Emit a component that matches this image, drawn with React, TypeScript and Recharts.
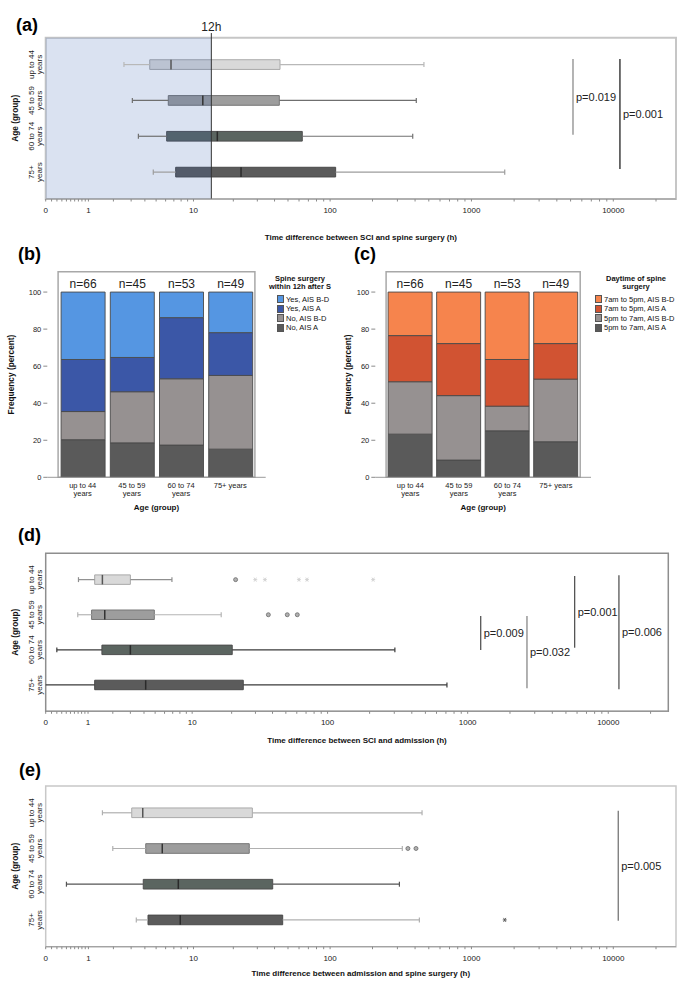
import React from "react";
import {
  ScatterChart,
  Scatter,
  XAxis,
  YAxis,
  ReferenceArea,
  ReferenceLine,
  BarChart,
  Bar,
  LabelList,
} from "recharts";

const FONT = "'Liberation Sans', Arial, sans-serif";

// ---- categories ----
const AGE_LABELS = ["up to 44 years", "45 to 59 years", "60 to 74 years", "75+ years"];
const AGE_BOX_LINES = [["up to 44", "years"], ["45 to 59", "years"], ["60 to 74", "years"], ["75+", "years"]];
const AGE_BAR_LINES = [["up to 44", "years"], ["45 to 59", "years"], ["60 to 74", "years"], ["75+ years"]];
const N_COUNTS = [66, 45, 53, 49];

// ---- box plots, hours: [whisker low, q1, median, q3, whisker high] per age group ----
const SCI_TO_SURGERY = [
  [2.56, 4.41, 6.64, 43.8, 462],
  [3.08, 6.31, 11.8, 43.3, 408],
  [3.5, 6.12, 15.2, 63.3, 385],
  [4.73, 7.24, 22.8, 109.5, 1717],
];
const SCI_TO_ADMISSION = [
  [0.71, 1.23, 1.53, 3.0, 6.9],
  [0.69, 1.12, 1.63, 4.92, 16.7],
  [0.2, 1.51, 3.0, 20.2, 303],
  [0, 1.23, 4.14, 24.4, 712],
];
// outliers [group, hours]
const ADMISSION_CIRCLES = [[1, 21.4], [2, 37.3], [2, 51.2], [2, 60.5]];
const ADMISSION_STARS = [[1, 29.9], [1, 35.2], [1, 62.2], [1, 71.1], [1, 212]];

const ADMISSION_TO_SURGERY = [
  [1.51, 3.04, 3.83, 27.6, 448],
  [1.97, 4.07, 5.63, 26.2, 325],
  [0.4, 3.87, 7.6, 38.8, 310],
  [3.35, 4.26, 7.88, 45.8, 429],
];
const SURGERY_CIRCLES = [[2, 356], [2, 406]];
const SURGERY_STARS = [[4, 1717]];

// shaded window and its marker line (drawn at ~13.7h in the source figure)
const EARLY_WINDOW_END = 13.7;

// significance brackets: hours position, group span, text
const A_PVALUES = [
  { h: 5200, from: 0.844, to: 2.956, text: "p=0.019", color: "#8c8c8c" },
  { h: 11140, from: 0.844, to: 3.913, text: "p=0.001", color: "#222" },
];
const D_PVALUES = [
  { h: 1238, from: 2.036, to: 3.005, text: "p=0.009", color: "#555" },
  { h: 2642, from: 2.036, to: 4.095, text: "p=0.032", color: "#888" },
  { h: 5768, from: 0.897, to: 2.939, text: "p=0.001", color: "#555" },
  { h: 11910, from: 0.877, to: 4.124, text: "p=0.006", color: "#555" },
];
const E_PVALUES = [{ h: 10840, from: 0.942, to: 4.022, text: "p=0.005", color: "#777" }];

// ---- stacked bars, percent per age group ----
const B_NO_A = [20.3, 18.6, 17.4, 15.2];
const B_NO_BD = [15.2, 27.6, 35.8, 39.8];
const B_YES_A = [28.1, 18.5, 33.0, 23.1];
const B_YES_BD = [36.4, 35.3, 13.8, 21.9];

const C_NIGHT_A = [23.3, 9.3, 25.1, 19.2];
const C_NIGHT_BD = [28.3, 34.8, 13.3, 33.8];
const C_DAY_A = [24.9, 28.1, 25.2, 19.2];
const C_DAY_BD = [23.5, 27.8, 36.4, 27.8];

// ---- log(x+1) axis ----
const lt = (h: number) => Math.log10(h + 1);
const MAJOR_TICKS = [0, 1, 10, 100, 1000, 10000];
const MINOR_TICKS = [1, 2, 3, 4, 5, 6, 7, 8, 9]
  .map((k) => k / 10)
  .concat([1, 10, 100, 1000].flatMap((d) => [2, 3, 4, 5, 6, 7, 8, 9].map((k) => k * d)))
  .concat([20000]);
const LOG_TICKS = [...MAJOR_TICKS, ...MINOR_TICKS].map(lt).sort((a, b) => a - b);

const BOX_FILL = ["#d9d9d9", "#9d9d9d", "#5b6560", "#5b5b5b"];
const BOX_STROKE = ["#a9a9a9", "#767676", "#4e4e4e", "#4a4a4a"];
const MEDIAN = ["#555", "#333", "#2a2a2a", "#2a2a2a"];
const BOX_H = 0.135;
const CAP = 0.07;

function LogTick({ x, y, payload }: any) {
  const major = MAJOR_TICKS.find((m) => Math.abs(lt(m) - payload.value) < 1e-9);
  return (
    <g>
      <line x1={x} x2={x} y1={y} y2={y + 2.5} stroke="#8a8a8a" />
      {major !== undefined && (
        <text x={x} y={y + 11.5} textAnchor="middle" dominantBaseline="central" fontSize={8} fill="#222" fontFamily={FONT}>
          {major}
        </text>
      )}
    </g>
  );
}

function AgeTick({ y, payload }: any) {
  const lines = AGE_BOX_LINES[payload.value - 1] || [];
  const xs = [31.7, 40];
  return (
    <g>
      {lines.map((l, k) => (
        <text
          key={k}
          x={xs[k]}
          y={y}
          transform={`rotate(-90 ${xs[k]} ${y})`}
          textAnchor="middle"
          dominantBaseline="central"
          fontSize={8}
          fill="#222"
          fontFamily={FONT}
        >
          {l}
        </text>
      ))}
    </g>
  );
}

function VTitle({ viewBox, x, text }: any) {
  const cy = viewBox.y + viewBox.height / 2;
  return (
    <text x={x} y={cy} transform={`rotate(-90 ${x} ${cy})`} textAnchor="middle" dominantBaseline="central" fontSize={8.3} fontWeight="bold" fill="#111" fontFamily={FONT}>
      {text}
    </text>
  );
}

const OutCircle = (p: any) => <circle cx={p.cx} cy={p.cy} r={2} fill="#b0b0b0" stroke="#6a6a6a" strokeWidth={0.8} />;
const makeStar = (color: string) => (p: any) => (
  <g stroke={color} strokeWidth={0.9}>
    <line x1={p.cx - 2} x2={p.cx + 2} y1={p.cy} y2={p.cy} />
    <line x1={p.cx - 1.2} x2={p.cx + 1.2} y1={p.cy - 2} y2={p.cy + 2} />
    <line x1={p.cx - 1.2} x2={p.cx + 1.2} y1={p.cy + 2} y2={p.cy - 2} />
  </g>
);

function BoxPanel(props: any) {
  const { top, height, plotTop, plotBottom, plotRight, tMax, stats, whisker, frameColor, frameWidth, circles, stars, starColor, pValues, title, titleOffset, extra } = props;
  const boxes = stats.flatMap((s: number[], i: number) => {
    const row = i + 1;
    const [lo, q1, med, q3, hi] = s.map(lt);
    const wc = whisker[i];
    const els = [
      <ReferenceLine key={`wl${i}`} segment={[{ x: lo, y: row }, { x: q1, y: row }]} stroke={wc} strokeWidth={1.2} />,
      <ReferenceLine key={`wh${i}`} segment={[{ x: q3, y: row }, { x: hi, y: row }]} stroke={wc} strokeWidth={1.2} />,
      <ReferenceLine key={`ch${i}`} segment={[{ x: hi, y: row - CAP }, { x: hi, y: row + CAP }]} stroke={wc} strokeWidth={1.2} />,
      <ReferenceArea key={`b${i}`} x1={q1} x2={q3} y1={row - BOX_H} y2={row + BOX_H} fill={BOX_FILL[i]} fillOpacity={1} stroke={BOX_STROKE[i]} strokeWidth={1} />,
      <ReferenceLine key={`m${i}`} segment={[{ x: med, y: row - BOX_H }, { x: med, y: row + BOX_H }]} stroke={MEDIAN[i]} strokeWidth={1.5} />,
    ];
    if (s[0] > 0) {
      els.push(<ReferenceLine key={`cl${i}`} segment={[{ x: lo, y: row - CAP }, { x: lo, y: row + CAP }]} stroke={wc} strokeWidth={1.2} />);
    }
    return els;
  });
  const brackets = pValues.map((p: any, i: number) => (
    <ReferenceLine
      key={`p${i}`}
      segment={[{ x: lt(p.h), y: p.from }, { x: lt(p.h), y: p.to }]}
      stroke={p.color}
      strokeWidth={1.3}
      label={{ value: p.text, position: "right", offset: 3, fontSize: 11, fill: "#222", fontFamily: FONT }}
    />
  ));
  return (
    <div style={{ position: "absolute", left: 0, top, width: 685, height }}>
      <ScatterChart width={685} height={height} margin={{ top: plotTop - top, right: 685 - plotRight, left: 0, bottom: 0 }}>
        <XAxis
          type="number"
          dataKey="t"
          domain={[0, tMax]}
          ticks={LOG_TICKS}
          interval={0}
          allowDataOverflow
          tick={<LogTick />}
          tickLine={false}
          tickSize={0}
          tickMargin={0}
          axisLine={{ stroke: "#9a9a9a" }}
          height={height - (plotBottom - top)}
          label={{ value: title, position: "insideBottom", offset: titleOffset, fontSize: 8, fontWeight: "bold", fill: "#111", fontFamily: FONT }}
        />
        <YAxis
          type="number"
          dataKey="row"
          domain={[0.25, 4.75]}
          reversed
          ticks={[1, 2, 3, 4]}
          interval={0}
          allowDataOverflow
          width={45.7}
          axisLine={false}
          tickLine={false}
          tickSize={0}
          tickMargin={0}
          tick={<AgeTick />}
          label={{ content: (lp: any) => <VTitle viewBox={lp.viewBox} x={15} text="Age (group)" /> }}
        />
        <ReferenceArea x1={0} x2={tMax} y1={0.25} y2={4.75} fill="none" stroke={frameColor} strokeWidth={frameWidth} ifOverflow="visible" />
        {boxes}
        {extra}
        {brackets}
        <Scatter data={circles.map(([row, h]: number[]) => ({ row, t: lt(h) }))} shape={OutCircle} isAnimationActive={false} />
        <Scatter data={stars.map(([row, h]: number[]) => ({ row, t: lt(h) }))} shape={makeStar(starColor)} isAnimationActive={false} />
      </ScatterChart>
    </div>
  );
}

function BarAgeTick({ x, y, payload }: any) {
  const lines = AGE_BAR_LINES[AGE_LABELS.indexOf(payload.value)] || [];
  return (
    <g>
      {lines.map((l, k) => (
        <text key={k} x={x} y={y + 7.7 + k * 8} textAnchor="middle" dominantBaseline="central" fontSize={7.5} fill="#222" fontFamily={FONT}>
          {l}
        </text>
      ))}
    </g>
  );
}

function BarPanel(props: any) {
  const { left, width, plotLeft, plotRight, data, series, titleX } = props;
  return (
    <div style={{ position: "absolute", left, top: 230, width, height: 285 }}>
      <BarChart width={width} height={285} data={data} barSize={44} margin={{ top: 41.7, right: width - plotRight, left: 0, bottom: 0 }}>
        <XAxis
          dataKey="age"
          padding={{ left: 10.8, right: 10.8 }}
          height={37.7}
          interval={0}
          tick={<BarAgeTick />}
          tickLine={false}
          tickSize={0}
          tickMargin={0}
          axisLine={{ stroke: "#9a9a9a" }}
          label={{ value: "Age (group)", position: "insideBottom", offset: 5, fontSize: 8, fontWeight: "bold", fill: "#111", fontFamily: FONT }}
        />
        <YAxis
          type="number"
          domain={[0, 111]}
          ticks={[0, 20, 40, 60, 80, 100]}
          interval={0}
          allowDataOverflow
          width={plotLeft}
          axisLine={false}
          tickSize={4}
          tickMargin={2}
          tickLine={{ stroke: "#8a8a8a" }}
          tick={{ fontSize: 7.5, fill: "#222", fontFamily: FONT }}
          label={{ content: (lp: any) => <VTitle viewBox={lp.viewBox} x={titleX} text="Frequency (percent)" /> }}
        />
        <ReferenceArea y1={0} y2={111} fill="none" stroke="#a8a8a8" strokeWidth={1.5} ifOverflow="visible" />
        {series.map((s: any, i: number) => (
          <Bar key={s.key} dataKey={s.key} stackId="s" fill={s.color} stroke="#4a4a4a" strokeWidth={0.9} isAnimationActive={false}>
            {i === series.length - 1 && (
              <LabelList dataKey="n" position="top" offset={4} formatter={(v: any) => `n=${v}`} fontSize={12} fill="#222" fontFamily={FONT} />
            )}
          </Bar>
        ))}
      </BarChart>
    </div>
  );
}

const LEGEND_TITLE_Y = [278.5, 286];
const LEGEND_ITEM_Y = [299, 308.8, 318.3, 327.8];

function StackLegend({ titleLines, titleX, swatchX, items }: any) {
  return (
    <>
      {titleLines.map((t: string, k: number) => (
        <div
          key={t}
          style={{ position: "absolute", left: titleX - 60, width: 120, top: LEGEND_TITLE_Y[k] - 4.5, textAlign: "center", fontSize: 7.5, lineHeight: "9px", fontWeight: "bold", color: "#111" }}
        >
          {t}
        </div>
      ))}
      {items.map((it: any, k: number) => (
        <div
          key={it.name}
          style={{ position: "absolute", left: swatchX, top: LEGEND_ITEM_Y[k] - 4.5, height: 9, display: "flex", alignItems: "center", fontSize: 7.5, lineHeight: "9px", whiteSpace: "nowrap", color: "#111" }}
        >
          <span style={{ display: "inline-block", width: 7, height: 8, background: it.color, border: "1px solid #555", boxSizing: "border-box", marginRight: 2 }} />
          {it.name}
        </div>
      ))}
    </>
  );
}

function PanelLabel({ text, x, cy }: any) {
  return (
    <div style={{ position: "absolute", left: x, top: cy - 10, fontSize: 18, lineHeight: "20px", fontWeight: "bold", color: "#000" }}>{text}</div>
  );
}

export default function App() {
  const surgeryWindowData = AGE_LABELS.map((age, i) => ({
    age,
    n: N_COUNTS[i],
    noA: B_NO_A[i],
    noBD: B_NO_BD[i],
    yesA: B_YES_A[i],
    yesBD: B_YES_BD[i],
  }));
  const daytimeData = AGE_LABELS.map((age, i) => ({
    age,
    n: N_COUNTS[i],
    nightA: C_NIGHT_A[i],
    nightBD: C_NIGHT_BD[i],
    dayA: C_DAY_A[i],
    dayBD: C_DAY_BD[i],
  }));
  const bSeries = [
    { key: "noA", name: "No, AIS A", color: "#5a5a5a" },
    { key: "noBD", name: "No, AIS B-D", color: "#969191" },
    { key: "yesA", name: "Yes, AIS A", color: "#3b57a7" },
    { key: "yesBD", name: "Yes, AIS B-D", color: "#5596e2" },
  ];
  const cSeries = [
    { key: "nightA", name: "5pm to 7am, AIS A", color: "#5a5a5a" },
    { key: "nightBD", name: "5pm to 7am, AIS B-D", color: "#969191" },
    { key: "dayA", name: "7am to 5pm, AIS A", color: "#d15332" },
    { key: "dayBD", name: "7am to 5pm, AIS B-D", color: "#f6844d" },
  ];
  const mark = lt(EARLY_WINDOW_END);
  const aExtra = [
    <ReferenceArea key="shade" x1={0} x2={mark} y1={0.25} y2={4.75} fill="#3461b0" fillOpacity={0.18} stroke="none" />,
    <ReferenceLine
      key="12h"
      segment={[{ x: mark, y: 0.12 }, { x: mark, y: 4.75 }]}
      stroke="#333"
      strokeWidth={1}
      ifOverflow="visible"
      label={{ value: "12h", position: "top", offset: 2, fontSize: 12, fill: "#222", fontFamily: FONT }}
    />,
  ];

  return (
    <div style={{ position: "absolute", left: 0, top: 0, width: 685, height: 988, background: "#fff", fontFamily: FONT, overflow: "hidden" }}>
      <BoxPanel
        top={0}
        height={250}
        plotTop={37.7}
        plotBottom={199}
        plotRight={676}
        tMax={4.442}
        stats={SCI_TO_SURGERY}
        whisker={["#b8b8b8", "#6f6f6f", "#707070", "#9c9c9c"]}
        frameColor="#c6c6c6"
        frameWidth={2}
        circles={[]}
        stars={[]}
        starColor="#555"
        pValues={A_PVALUES}
        title="Time difference between SCI and spine surgery (h)"
        titleOffset={10}
        extra={aExtra}
      />
      <BarPanel left={0} width={345} plotLeft={47.3} plotRight={265.7} data={surgeryWindowData} series={bSeries} titleX={11} />
      <BarPanel left={340} width={345} plotLeft={35.3} plotRight={251} data={daytimeData} series={cSeries} titleX={7.7} />
      <StackLegend titleLines={["Spine surgery", "within 12h after S"]} titleX={300} swatchX={277} items={[...bSeries].reverse()} />
      <StackLegend titleLines={["Daytime of spine", "surgery"]} titleX={636} swatchX={595} items={[...cSeries].reverse()} />
      <BoxPanel
        top={510}
        height={245}
        plotTop={553.3}
        plotBottom={711.3}
        plotRight={668.3}
        tMax={4.427}
        stats={SCI_TO_ADMISSION}
        whisker={["#8f8f8f", "#b5b5b5", "#3a3a3a", "#3a3a3a"]}
        frameColor="#8e8e8e"
        frameWidth={1.5}
        circles={ADMISSION_CIRCLES}
        stars={ADMISSION_STARS}
        starColor="#d0d0d0"
        pValues={D_PVALUES}
        title="Time difference between SCI and admission (h)"
        titleOffset={12}
        extra={[]}
      />
      <BoxPanel
        top={760}
        height={228}
        plotTop={786}
        plotBottom={946.7}
        plotRight={676}
        tMax={4.442}
        stats={ADMISSION_TO_SURGERY}
        whisker={["#b0b0b0", "#b0b0b0", "#555555", "#b0b0b0"]}
        frameColor="#c8c8c8"
        frameWidth={1.5}
        circles={SURGERY_CIRCLES}
        stars={SURGERY_STARS}
        starColor="#555"
        pValues={E_PVALUES}
        title="Time difference between admission and spine surgery (h)"
        titleOffset={12}
        extra={[]}
      />
      <PanelLabel text="(a)" x={16} cy={25} />
      <PanelLabel text="(b)" x={18} cy={254} />
      <PanelLabel text="(c)" x={354} cy={254} />
      <PanelLabel text="(d)" x={18} cy={535} />
      <PanelLabel text="(e)" x={19} cy={770} />
    </div>
  );
}
